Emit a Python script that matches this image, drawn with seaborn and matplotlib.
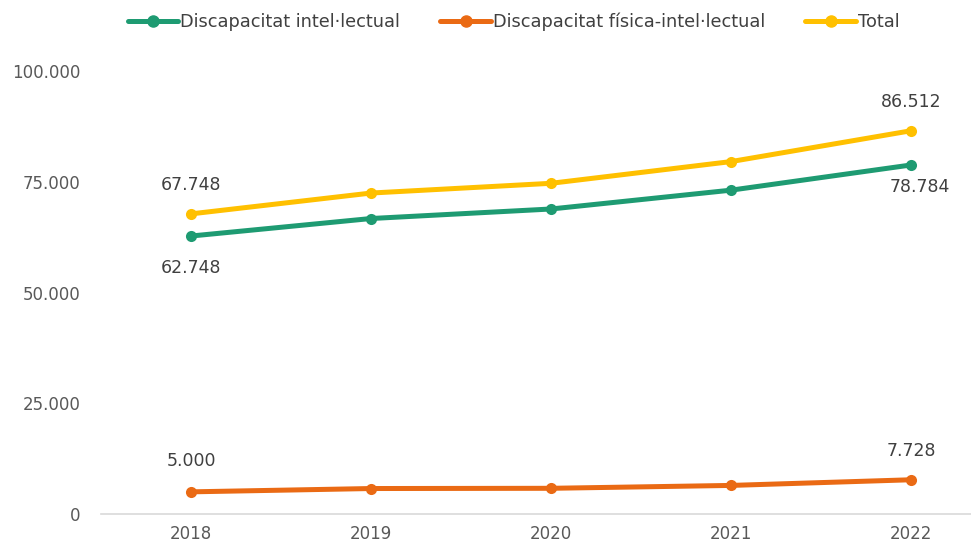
import pandas as pd
import matplotlib
matplotlib.use('Agg')
import matplotlib.pyplot as plt
import seaborn as sns

# Chart data
years = ['2018', '2019', '2020', '2021', '2022']
intel = [62748, 66700, 68850, 73100, 78784]
fisica = [5000, 5750, 5800, 6450, 7728]
total = [67748, 72450, 74650, 79550, 86512]

series_names = ['Discapacitat intel·lectual', 'Discapacitat física-intel·lectual', 'Total']
colors = ['#1E9B72', '#EA6A14', '#FFC000']

df = pd.DataFrame({
    'Any': years * 3,
    'Valor': intel + fisica + total,
    'Serie': [series_names[0]] * 5 + [series_names[1]] * 5 + [series_names[2]] * 5,
})
df['pos'] = df['Any'].map({y: i for i, y in enumerate(years)})

sns.set_style('white')
plt.rcParams['font.family'] = ['DejaVu Sans']

fig = plt.figure(figsize=(9.71, 5.51), dpi=100)
ax = fig.add_axes([101 / 971, 37 / 551, 870 / 971, 443 / 551])

sns.lineplot(data=df, x='pos', y='Valor', hue='Serie', palette=colors,
             hue_order=series_names, marker='o', markersize=8, linewidth=3.6,
             markeredgewidth=0, ax=ax, legend=False)

ax.set_xlim(-0.5, -0.5 + 870 / 180)
ax.set_ylim(0, 100000)
ax.set_xticks(range(len(years)))
ax.set_xticklabels(years)
ax.set_yticks([0, 25000, 50000, 75000, 100000])
ax.set_yticklabels(['0', '25.000', '50.000', '75.000', '100.000'])
ax.set_xlabel('')
ax.set_ylabel('')
ax.tick_params(axis='both', length=0, labelsize=12, colors='#595959', pad=8)
ax.tick_params(axis='y', pad=15)

for s in ['top', 'right', 'left']:
    ax.spines[s].set_visible(False)
ax.spines['bottom'].set_color('#D9D9D9')
ax.spines['bottom'].set_linewidth(1.2)

def fmt(v):
    return f'{v:,}'.replace(',', '.')

lab = dict(fontsize=12.5, color='#404040', ha='center', va='center')
ax.annotate(fmt(total[0]), (0, total[0]), xytext=(0, 21), textcoords='offset points', **lab)
ax.annotate(fmt(intel[0]), (0, intel[0]), xytext=(0, -23), textcoords='offset points', **lab)
ax.annotate(fmt(fisica[0]), (0, fisica[0]), xytext=(0, 22), textcoords='offset points', **lab)
ax.annotate(fmt(total[4]), (4, total[4]), xytext=(0, 21), textcoords='offset points', **lab)
ax.annotate(fmt(intel[4]), (4, intel[4]), xytext=(6, -16), textcoords='offset points', **lab)
ax.annotate(fmt(fisica[4]), (4, fisica[4]), xytext=(0, 21), textcoords='offset points', **lab)

handles = [plt.Line2D([], [], color=c, lw=3.6, marker='o', markersize=8) for c in colors]
fig.legend(handles, series_names, loc='center', bbox_to_anchor=(0.529, 0.96), ncol=3,
           frameon=False, fontsize=12.8, handlelength=2.85, handletextpad=0.12,
           columnspacing=2.25, labelcolor='#404040')

fig.savefig('out.png', dpi=100)
